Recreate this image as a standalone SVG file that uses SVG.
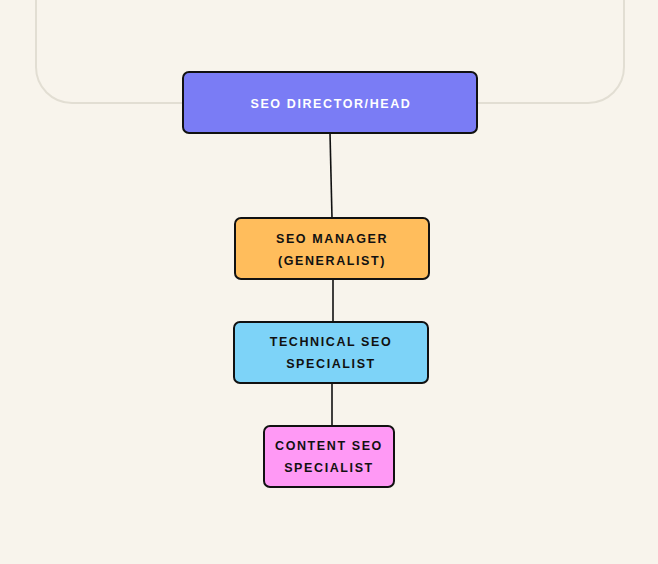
<svg xmlns="http://www.w3.org/2000/svg" width="658" height="564" viewBox="0 0 658 564">
<style>
.node rect{stroke:#111;stroke-width:2}
.lbl{font-family:"Liberation Sans",Arial,sans-serif;font-weight:bold;font-size:12.5px;letter-spacing:1.6px;text-anchor:middle;fill:#111}
.conn line{stroke:#111;stroke-width:1.6}
</style>
<rect x="0" y="0" width="658" height="564" fill="#f8f4ec"/>
<rect x="36" y="-100" width="588" height="203" rx="36" fill="none" stroke="#e2ded3" stroke-width="2"/>
<g id="connectors" class="conn">
<line x1="330" y1="133" x2="332" y2="218"/>
<line x1="333" y1="279" x2="333" y2="322"/>
<line x1="332" y1="383" x2="332" y2="426"/>
</g>
<g id="director" class="node">
<rect x="183" y="72" width="294" height="61" rx="6" fill="#7a7cf5"/>
<text class="lbl" x="331" y="108" style="fill:#fff">SEO DIRECTOR/HEAD</text>
</g>
<g id="manager" class="node">
<rect x="235" y="218" width="194" height="61" rx="6" fill="#ffbd5c"/>
<text class="lbl" x="332" y="243">SEO MANAGER</text>
<text class="lbl" x="332" y="265">(GENERALIST)</text>
</g>
<g id="technical" class="node">
<rect x="234" y="322" width="194" height="61" rx="6" fill="#7dd3f8"/>
<text class="lbl" x="331" y="346">TECHNICAL SEO</text>
<text class="lbl" x="331" y="368">SPECIALIST</text>
</g>
<g id="content" class="node">
<rect x="264" y="426" width="130" height="61" rx="6" fill="#ff99f5"/>
<text class="lbl" x="329" y="450">CONTENT SEO</text>
<text class="lbl" x="329" y="472">SPECIALIST</text>
</g>
</svg>
